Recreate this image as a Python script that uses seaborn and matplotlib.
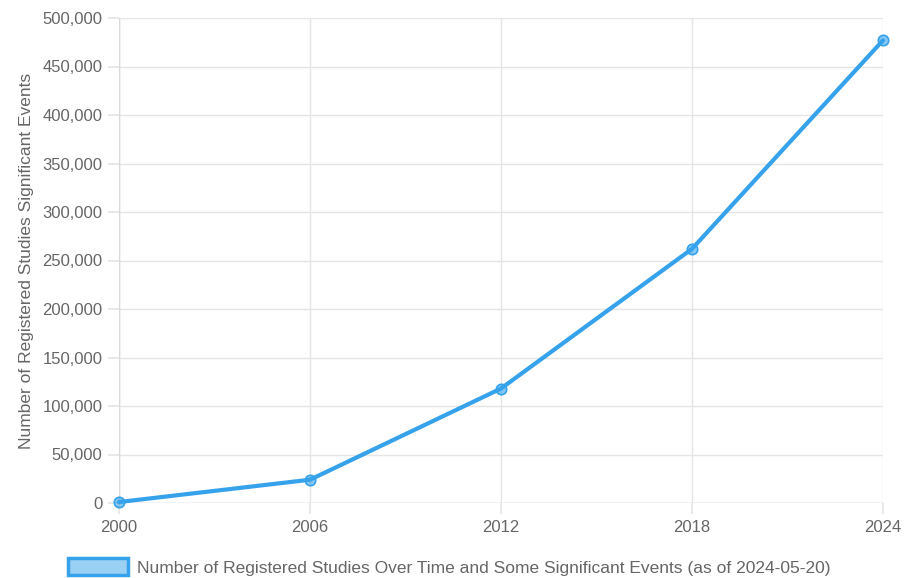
import matplotlib
matplotlib.use("Agg")
import matplotlib.pyplot as plt
import matplotlib.ticker as mticker
from matplotlib.patches import Patch
import seaborn as sns
import pandas as pd

years = [2000, 2006, 2012, 2018, 2024]
studies = [1000, 24000, 118000, 262000, 477000]
series_label = "Number of Registered Studies Over Time and Some Significant Events (as of 2024-05-20)"
y_label = "Number of Registered Studies Significant Events"

sns.set_theme(style="white")
plt.rcParams['font.family'] = ['Liberation Sans', 'DejaVu Sans']

df = pd.DataFrame({"year": years, "studies": studies})

fig = plt.figure(figsize=(9.1, 5.78), dpi=100)
ax = fig.add_axes([119/910, 1 - 503/578, (883-119)/910, (503-18)/578])

blue = "#36A2EB"
sns.lineplot(data=df, x="year", y="studies", ax=ax, color=blue, linewidth=3,
             marker="o", markersize=7.5, markerfacecolor=(54/255, 162/255, 235/255, 0.6),
             markeredgecolor=blue, markeredgewidth=1.2, clip_on=False, zorder=5)

ax.set_xlim(2000, 2024)
ax.set_ylim(0, 500000)
ax.set_xticks(years)
ax.yaxis.set_major_locator(mticker.MultipleLocator(50000))
ax.yaxis.set_major_formatter(mticker.FuncFormatter(lambda v, p: f"{int(v):,}"))
ax.grid(True, color="#e5e5e5", linewidth=1)
for s in ax.spines.values():
    s.set_visible(False)
ax.axvline(2000, color="#d9d9d9", linewidth=1, zorder=1)
ax.axhline(0, color="#d9d9d9", linewidth=1, zorder=1)
ax.tick_params(axis="both", which="major", length=8, color="#e5e5e5", labelsize=12,
               labelcolor="#666666", pad=4, left=True, bottom=True)
ax.set_xlabel("")
ax.set_ylabel(y_label, fontsize=12.5, color="#666666", labelpad=6)

handle = Patch(facecolor=(54/255, 162/255, 235/255, 0.5), edgecolor=blue, linewidth=2.5)
fig.legend(handles=[handle], labels=[series_label], loc="center", bbox_to_anchor=(449/910, 1 - 567/578),
           frameon=False, fontsize=12.5, labelcolor="#666666", handlelength=3.5, handleheight=1.1,
           handletextpad=0.5, borderaxespad=0)

fig.savefig("out.png", dpi=100)
